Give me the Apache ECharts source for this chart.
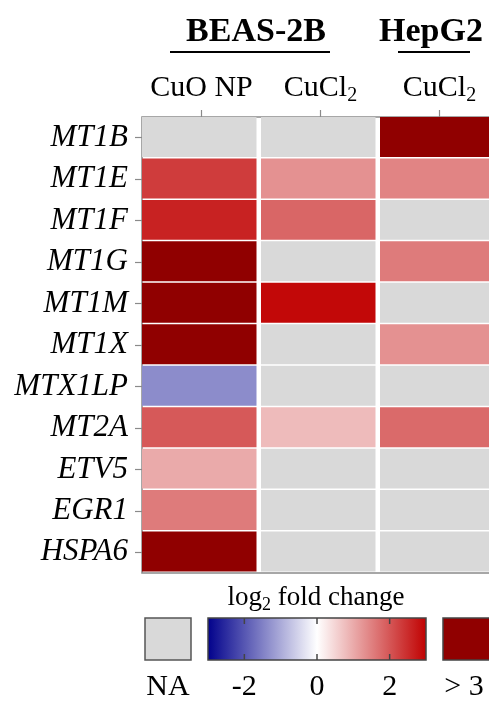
<!DOCTYPE html>
<html>
<head>
<meta charset="utf-8">
<script src="https://cdn.jsdelivr.net/npm/echarts@6/dist/echarts.min.js"></script>
<style>
  html, body { margin: 0; padding: 0; background: #ffffff; }
  #chart { width: 489px; height: 702px; }
</style>
</head>
<body>
<div id="chart"></div>
<script>
// Genes (rows, top to bottom)
const genes = ['MT1B', 'MT1E', 'MT1F', 'MT1G', 'MT1M', 'MT1X', 'MTX1LP', 'MT2A', 'ETV5', 'EGR1', 'HSPA6'];
// Exposure columns
const columns = ['CuO NP', 'CuCl2', 'CuCl2'];
// log2 fold change per column; null = NA, values above 3 fall in the "> 3" class
const beasCuONP = [null, 2.3, 2.6, 3.5, 3.5, 3.5, -1.35, 1.95, 1.0, 1.55, 3.5];
const beasCuCl2 = [null, 1.3, 1.8, null, 2.9, null, null, 0.8, null, null, null];
const hepCuCl2  = [3.5, 1.45, null, 1.55, null, 1.3, null, 1.75, null, null, null];
// Colour bar
const scaleMin = -3;
const scaleMax = 3;
const scaleTicks = [-2, 0, 2];
const scaleColors = ['#00008b', '#ffffff', '#c00000'];
const overColor = '#900000';
const naColor = '#d9d9d9';

const SERIF = '"Liberation Serif", "DejaVu Serif", serif';

const valueColumns = [beasCuONP, beasCuCl2, hepCuCl2];
const naData = [];
const valData = [];
valueColumns.forEach((col, ci) => {
  col.forEach((v, ri) => {
    if (v === null) naData.push([ci, ri]);
    else valData.push([ci, ri, v]);
  });
});

const COL_GAP = 4.5;
const ROW_GAP = 1.5;

function cellRect(api) {
  const c = api.coord([api.value(0), api.value(1)]);
  const s = api.size([1, 1]);
  return {
    x: c[0] - s[0] / 2,
    y: c[1] - s[1] / 2,
    width: s[0] - COL_GAP,
    height: s[1] - ROW_GAP
  };
}

const chart = echarts.init(document.getElementById('chart'), null, { renderer: 'canvas' });

const gridLeft = 142, gridTop = 117, gridW = 357, gridH = 456;

// Legend geometry
const barX = 208, barY = 618, barW = 218, barH = 42;
function barPos(v) { return barX + (v - scaleMin) / (scaleMax - scaleMin) * barW; }

const gradStops = scaleColors.map((c, i) => ({ offset: i / (scaleColors.length - 1), color: c }));

const legendGraphics = [
  // Cell line titles
  { type: 'text', style: { x: 256, y: 32, text: 'BEAS-2B', font: 'bold 34px ' + SERIF, fill: '#000', align: 'center', verticalAlign: 'middle' } },
  { type: 'line', shape: { x1: 170, y1: 52, x2: 330, y2: 52 }, style: { stroke: '#000', lineWidth: 2 } },
  { type: 'text', style: { x: 431, y: 32, text: 'HepG2', font: 'bold 34px ' + SERIF, fill: '#000', align: 'center', verticalAlign: 'middle' } },
  { type: 'line', shape: { x1: 398, y1: 52, x2: 470, y2: 52 }, style: { stroke: '#000', lineWidth: 2 } },
  // Legend title
  { type: 'text', style: {
      x: 316, y: 598, align: 'center', verticalAlign: 'middle',
      text: '{a|log}{s|2}{a| fold change}',
      rich: {
        a: { fontFamily: SERIF, fontSize: 27, lineHeight: 30, fill: '#000' },
        s: { fontFamily: SERIF, fontSize: 18, lineHeight: 30, padding: [14, 0, 0, 0], fill: '#000' }
      }
  } },
  // NA box
  { type: 'rect', shape: { x: 145, y: barY, width: 46, height: barH }, style: { fill: naColor, stroke: '#555', lineWidth: 1.5 } },
  // Gradient bar
  { type: 'rect', shape: { x: barX, y: barY, width: barW, height: barH },
    style: { fill: new echarts.graphic.LinearGradient(0, 0, 1, 0, gradStops), stroke: '#444', lineWidth: 1.5 } },
  // > 3 box
  { type: 'rect', shape: { x: 443, y: barY, width: 70, height: barH }, style: { fill: overColor, stroke: '#444', lineWidth: 1.5 } },
  // Labels
  { type: 'text', style: { x: 168, y: 687, text: 'NA', font: '30px ' + SERIF, fill: '#000', align: 'center', verticalAlign: 'middle' } },
  { type: 'text', style: { x: 464, y: 687, text: '> 3', font: '30px ' + SERIF, fill: '#000', align: 'center', verticalAlign: 'middle' } }
];
scaleTicks.forEach(t => {
  const x = barPos(t);
  legendGraphics.push({ type: 'line', shape: { x1: x, y1: barY, x2: x, y2: barY + 6 }, style: { stroke: '#444', lineWidth: 1.5 } });
  legendGraphics.push({ type: 'line', shape: { x1: x, y1: barY + barH - 6, x2: x, y2: barY + barH }, style: { stroke: '#444', lineWidth: 1.5 } });
  legendGraphics.push({ type: 'text', style: { x: x, y: 687, text: String(t), font: '30px ' + SERIF, fill: '#000', align: 'center', verticalAlign: 'middle' } });
});

chart.setOption({
  animation: false,
  backgroundColor: '#ffffff',
  grid: {
    left: gridLeft, top: gridTop, width: gridW, height: gridH,
    outerBoundsMode: 'none',
    containLabel: false,
    show: true, borderColor: '#8a8a8a', borderWidth: 1.5, backgroundColor: 'transparent'
  },
  xAxis: {
    type: 'category',
    position: 'top',
    data: columns,
    axisLine: { show: false },
    axisTick: { show: true, alignWithLabel: true, length: 7, lineStyle: { color: '#8a8a8a', width: 1.2 } },
    axisLabel: {
      margin: 14,
      interval: 0,
      hideOverlap: false,
      formatter: (val) => val === 'CuCl2' ? '{m|CuCl}{s|2}' : '{m|' + val + '}',
      rich: {
        m: { fontFamily: SERIF, fontSize: 30, lineHeight: 30, color: '#000' },
        s: { fontFamily: SERIF, fontSize: 20, lineHeight: 30, padding: [16, 0, 0, 0], color: '#000' }
      }
    },
    splitLine: { show: false }
  },
  yAxis: {
    type: 'category',
    inverse: true,
    data: genes,
    axisLine: { show: false },
    axisTick: { show: true, alignWithLabel: true, length: 7, lineStyle: { color: '#8a8a8a', width: 1.2 } },
    axisLabel: { margin: 14, interval: 0, fontFamily: SERIF, fontStyle: 'italic', fontSize: 31, color: '#000' },
    splitLine: { show: false }
  },
  visualMap: {
    show: false,
    type: 'continuous',
    min: scaleMin,
    max: scaleMax,
    dimension: 2,
    seriesIndex: 1,
    inRange: { color: scaleColors }
  },
  series: [
    {
      type: 'custom',
      data: naData,
      renderItem: (params, api) => ({ type: 'rect', shape: cellRect(api), style: { fill: naColor } })
    },
    {
      type: 'custom',
      data: valData,
      renderItem: (params, api) => {
        const v = api.value(2);
        const fill = v > scaleMax ? overColor : api.visual('color');
        return { type: 'rect', shape: cellRect(api), style: { fill: fill } };
      }
    }
  ],
  graphic: legendGraphics
});
</script>
</body>
</html>
